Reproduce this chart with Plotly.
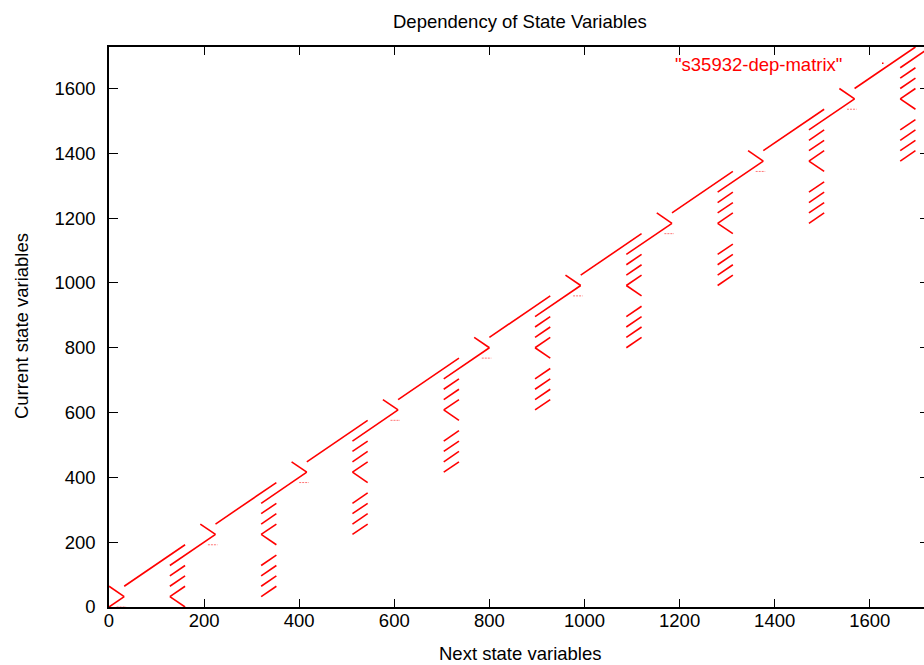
import plotly.graph_objects as go

# ---- data ----
N_VARS = 1728                      # axis extent (state variables)
BLOCK_OFFSETS = [0, 192, 384, 576, 768, 960, 1152, 1344, 1536, 1728]

# dependency segments of one repeating block, relative to the block origin
# (x0, y0) -> (x1, y1) in variable-index units
SEG_X0 = [0,   -64, 32,  160, 128, 128,  128,  128, 128, 128, 128]
SEG_Y0 = [64,  -64, 64,  64,  32,  -160, -128, -96, -64, 64,  96]
SEG_X1 = [32,  32,  160, 128, 160, 160,  160,  160, 160, 160, 160]
SEG_Y1 = [32,  32,  192, 32,  0,   -128, -96,  -64, -32, 96,  128]

# sparse row of dependencies just below each '>' vertex
DOT_X0, DOT_X1, DOT_Y = 16, 36, 0

X_TICKS = [0, 200, 400, 600, 800, 1000, 1200, 1400, 1600]
Y_TICKS = [0, 200, 400, 600, 800, 1000, 1200, 1400, 1600]

TITLE = "Dependency of State Variables"
X_TITLE = "Next state variables"
Y_TITLE = "Current state variables"
KEY = '"s35932-dep-matrix"'

# ---- build traces ----
xs, ys = [], []
for o in BLOCK_OFFSETS:
    for x0, y0, x1, y1 in zip(SEG_X0, SEG_Y0, SEG_X1, SEG_Y1):
        xs += [o + x0, o + x1, None]
        ys += [o + y0, o + y1, None]

dx, dy = [], []
for o in BLOCK_OFFSETS:
    dx += [o + DOT_X0, o + DOT_X1, None]
    dy += [o + DOT_Y, o + DOT_Y, None]

FONT = "Liberation Sans, Arial, sans-serif"
FS = 18.5
RED = "#ff0000"

fig = go.Figure()
fig.add_trace(go.Scatter(x=xs, y=ys, mode="lines",
                         line=dict(color=RED, width=1.6),
                         hoverinfo="skip", showlegend=False))
fig.add_trace(go.Scatter(x=dx, y=dy, mode="lines",
                         line=dict(color="rgba(255,0,0,0.55)", width=1, dash="2px,1px"),
                         hoverinfo="skip", showlegend=False))
# invisible trace to carry the right-hand mirror ticks
fig.add_trace(go.Scatter(x=[None], y=[None], yaxis="y2", mode="lines",
                         showlegend=False, hoverinfo="skip"))

L, R, T, B = 109, 0, 47, 58
W, H = 924, 665
pw = W - L - R
ph = H - T - B
x_scale = 0.4755  # px per unit
x_max = pw / x_scale

axis_common = dict(showgrid=False, zeroline=False, showline=True,
                   linecolor="black", linewidth=1.5,
                   ticks="inside", tickcolor="black", tickwidth=1.3,
                   tickfont=dict(family=FONT, size=FS, color="black"))

fig.update_layout(
    width=W, height=H,
    margin=dict(l=L, r=R, t=T, b=B, pad=0),
    plot_bgcolor="white", paper_bgcolor="white",
    showlegend=False,
    xaxis=dict(range=[0, x_max], tickvals=X_TICKS, ticklen=8,
               mirror="ticks", ticklabelstandoff=-4, **axis_common),
    yaxis=dict(range=[0, N_VARS], tickvals=Y_TICKS, ticklen=9,
               mirror=False, ticklabelstandoff=8, **axis_common),
    yaxis2=dict(overlaying="y", side="right", matches="y",
                tickvals=Y_TICKS, ticks="inside", ticklen=4,
                tickcolor="black", tickwidth=1.3,
                showticklabels=False, showline=False,
                showgrid=False, zeroline=False),
)

def px_x(p):
    return (p - L) / pw

def px_y(p):
    return (H - B - p) / ph

annos = [
    dict(text=TITLE, x=px_x(519.7), y=px_y(21.5), xanchor="center", yanchor="middle",
         font=dict(family=FONT, size=FS, color="black")),
    dict(text=X_TITLE, x=px_x(519.5), y=px_y(653), xanchor="center", yanchor="middle",
         font=dict(family=FONT, size=FS, color="black")),
    dict(text=Y_TITLE, x=px_x(21.5), y=px_y(326.6), xanchor="center", yanchor="middle",
         textangle=-90, font=dict(family=FONT, size=FS, color="black")),
    dict(text=KEY, x=px_x(843.5), y=px_y(64.5), xanchor="right", yanchor="middle",
         font=dict(family=FONT, size=FS, color=RED)),
]
for a in annos:
    a.update(xref="paper", yref="paper", showarrow=False)
fig.update_layout(annotations=annos)

# key sample (single dot)
fig.add_shape(type="rect", xref="paper", yref="paper",
              x0=px_x(882), x1=px_x(883.5), y0=px_y(64), y1=px_y(62.5),
              fillcolor=RED, line=dict(width=0))

fig.write_html("out.html",
               config={"displayModeBar": False},
               post_script="document.body.style.margin='0';document.body.style.overflow='hidden';")
